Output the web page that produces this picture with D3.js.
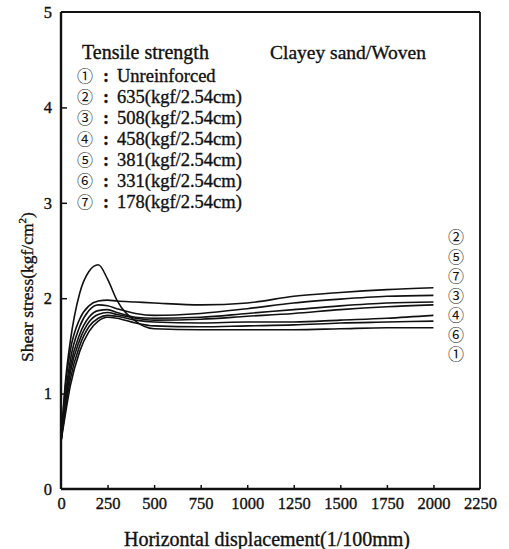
<!DOCTYPE html>
<html>
<head>
<meta charset="utf-8">
<script src="https://cdn.jsdelivr.net/npm/d3@7/dist/d3.min.js"></script>
<style>
  html, body { margin: 0; padding: 0; background: #fff; }
  svg { display: block; }
  .serif { font-family: "Liberation Serif", "DejaVu Serif", serif; fill: #111; stroke: #111; stroke-width: 0.35px; }
  .circ { font-family: "Noto Sans CJK JP", "DejaVu Sans", sans-serif; fill: #111; }
  .vcol { writing-mode: vertical-rl; text-orientation: upright; }
</style>
</head>
<body>
<svg id="chart" width="509" height="549"></svg>
<script>
// Horizontal displacement (1/100 mm) at which shear stress was recorded
const displacement = [0, 25, 50, 100, 150, 200, 250, 300, 400, 500, 750, 1000, 1250, 1500, 1750, 2000];

// Shear stress (kgf/cm^2) for each reinforcement case
const unreinforced = [0.5, 1.15, 1.55, 2.05, 2.28, 2.35, 2.20, 1.98, 1.76, 1.68, 1.67, 1.67, 1.67, 1.68, 1.69, 1.69];
const ts635 = [0.5, 1.10, 1.45, 1.78, 1.92, 1.97, 1.98, 1.97, 1.96, 1.95, 1.93, 1.95, 2.02, 2.06, 2.09, 2.11];
const ts508 = [0.5, 0.90, 1.22, 1.56, 1.75, 1.83, 1.85, 1.83, 1.79, 1.77, 1.78, 1.81, 1.84, 1.88, 1.91, 1.93];
const ts458 = [0.5, 0.85, 1.15, 1.50, 1.70, 1.79, 1.82, 1.81, 1.77, 1.75, 1.74, 1.75, 1.75, 1.77, 1.79, 1.82];
const ts381 = [0.5, 1.00, 1.35, 1.70, 1.87, 1.93, 1.92, 1.89, 1.84, 1.82, 1.84, 1.89, 1.95, 1.99, 2.02, 2.03];
const ts331 = [0.5, 0.80, 1.08, 1.44, 1.65, 1.76, 1.80, 1.79, 1.74, 1.71, 1.70, 1.71, 1.72, 1.74, 1.75, 1.76];
const ts178 = [0.5, 0.95, 1.28, 1.62, 1.80, 1.87, 1.88, 1.85, 1.80, 1.79, 1.80, 1.84, 1.88, 1.92, 1.95, 1.96];

const seriesValues = [unreinforced, ts635, ts508, ts458, ts381, ts331, ts178];
const seriesMarks = ["①", "②", "③", "④", "⑤", "⑥", "⑦"];
const legendLabels = ["Unreinforced", "635(kgf/2.54cm)", "508(kgf/2.54cm)", "458(kgf/2.54cm)",
                      "381(kgf/2.54cm)", "331(kgf/2.54cm)", "178(kgf/2.54cm)"];
// Curve markers listed top to bottom at the right end of the curves
const endMarks = ["②", "⑤", "⑦", "③", "④", "⑥", "①"];

const xTicks = [0, 250, 500, 750, 1000, 1250, 1500, 1750, 2000, 2250];
const yTicks = [0, 1, 2, 3, 4, 5];

const svg = d3.select("#chart");
const plotLeft = 61, plotRight = 480, plotTop = 12, plotBottom = 489;

const x = d3.scaleLinear().domain([0, 2250]).range([plotLeft, plotRight]);
const y = d3.scaleLinear().domain([0, 5]).range([plotBottom, plotTop]);

// Axes with inward ticks
const xAxis = svg.append("g")
  .attr("transform", `translate(0,${plotBottom})`)
  .call(d3.axisBottom(x).tickValues(xTicks).tickSize(-4).tickPadding(8).tickFormat(d3.format("d")));
const yAxis = svg.append("g")
  .attr("transform", `translate(${plotLeft},0)`)
  .call(d3.axisLeft(y).tickValues(yTicks).tickSize(-6).tickPadding(9).tickFormat(d3.format("d")));

[xAxis, yAxis].forEach(g => {
  g.select(".domain").remove();
  g.selectAll(".tick line").attr("stroke", "#111").attr("stroke-width", 1.5);
  g.selectAll(".tick text")
    .attr("class", "serif")
    .style("font-size", "16.5px");
});
yAxis.selectAll(".tick").filter(d => d === 0 || d === 5).select("line").remove();
xAxis.selectAll(".tick").filter(d => d === 0 || d === 2250).select("line").remove();

// Plot frame
const frame = svg.append("g").attr("stroke", "#111").attr("fill", "none");
frame.append("line").attr("x1", plotLeft).attr("x2", plotLeft).attr("y1", plotTop).attr("y2", plotBottom).attr("stroke-width", 2.4);
frame.append("line").attr("x1", plotLeft).attr("x2", plotRight).attr("y1", plotBottom).attr("y2", plotBottom).attr("stroke-width", 2.4);
frame.append("line").attr("x1", plotLeft).attr("x2", plotRight).attr("y1", plotTop).attr("y2", plotTop).attr("stroke-width", 1.8);
frame.append("line").attr("x1", plotRight).attr("x2", plotRight).attr("y1", plotTop).attr("y2", plotBottom).attr("stroke-width", 1.8);

// Shear stress curves
const line = d3.line()
  .x((d, i) => x(displacement[i]))
  .y(d => y(d))
  .curve(d3.curveMonotoneX);

svg.append("g").selectAll("path")
  .data(seriesValues)
  .join("path")
  .attr("d", line)
  .attr("fill", "none")
  .attr("stroke", "#111")
  .attr("stroke-width", 1.6);

// Legend block
svg.append("text").attr("class", "serif")
  .attr("x", 82).attr("y", 59).style("font-size", "20px")
  .text("Tensile strength");
svg.append("text").attr("class", "serif")
  .attr("x", 270).attr("y", 59).style("font-size", "19.5px")
  .text("Clayey sand/Woven");

const legendTop = 81, legendStep = 21, markSize = 16;
// Circled numbers set as one vertical column
svg.append("text").attr("class", "circ vcol")
  .attr("x", 85)
  .attr("y", legendTop - 13)
  .style("font-size", markSize + "px")
  .style("letter-spacing", (legendStep - markSize) + "px")
  .text(seriesMarks.join(""));

const legend = svg.append("g");
legendLabels.forEach((lab, i) => {
  const by = legendTop + 1 + i * legendStep;
  legend.append("text").attr("class", "serif")
    .attr("x", 103).attr("y", by).style("font-size", "18px").style("font-weight", "bold").text(":");
  legend.append("text").attr("class", "serif")
    .attr("x", 117).attr("y", by).style("font-size", "18.5px").text(lab);
});

// Curve markers on the right, one vertical column
const endStep = 19.5;
svg.append("text").attr("class", "circ vcol")
  .attr("x", 456)
  .attr("y", 242 - 13)
  .style("font-size", markSize + "px")
  .style("letter-spacing", (endStep - markSize) + "px")
  .text(endMarks.join(""));

// Axis titles
svg.append("text").attr("class", "serif")
  .attr("x", 267).attr("y", 546)
  .attr("text-anchor", "middle")
  .style("font-size", "20px")
  .text("Horizontal displacement(1/100mm)");

const yTitle = svg.append("text").attr("class", "serif")
  .attr("transform", "translate(33,287) rotate(-90)")
  .attr("text-anchor", "middle")
  .style("font-size", "17.5px");
yTitle.append("tspan").text("Shear stress(kgf/cm");
yTitle.append("tspan").attr("dy", "-7").style("font-size", "11px").text("2");
yTitle.append("tspan").attr("dy", "7").text(")");
</script>
</body>
</html>
